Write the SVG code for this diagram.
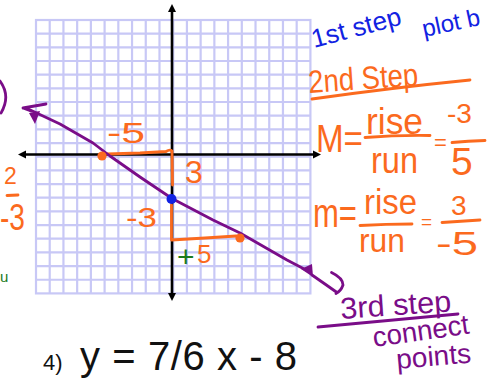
<svg xmlns="http://www.w3.org/2000/svg" width="491" height="381" viewBox="0 0 491 381">
<defs>
<style>
.grid{stroke:#c8c8f6;stroke-width:2.2;fill:none}
.axis{stroke:#000;stroke-width:2.6;fill:none}
.ah{fill:#000}
.pl{stroke:#7a0d88;stroke-width:2.8;fill:none;stroke-linecap:round;stroke-linejoin:round}
.or{stroke:#fb6a1e;stroke-width:2.8;fill:none;stroke-linecap:round;stroke-linejoin:round}
.t{font-family:"Liberation Sans","Noto Sans",Arial,sans-serif}
.to{fill:#fb6a1e}
.tb{fill:#1222e2}
.tp{fill:#7a0d88}
.tg{fill:#1c7a1c}
.tk{fill:#111}
</style>
</defs>
<rect width="491" height="381" fill="#fff"/>
<g id="grid">
<rect x="36" y="20" width="274.4" height="273.4" fill="#fff" stroke="#c8c8f6" stroke-width="2.2"/>
<path class="grid" d="M49.72,20V293.4M63.44,20V293.4M77.16,20V293.4M90.88,20V293.4M104.6,20V293.4M118.32,20V293.4M132.04,20V293.4M145.76,20V293.4M159.48,20V293.4M173.2,20V293.4M186.92,20V293.4M200.64,20V293.4M214.36,20V293.4M228.08,20V293.4M241.8,20V293.4M255.52,20V293.4M269.24,20V293.4M282.96,20V293.4M296.68,20V293.4"/>
<path class="grid" d="M36,33.67H310.4M36,47.34H310.4M36,61.01H310.4M36,74.68H310.4M36,88.35H310.4M36,102.02H310.4M36,115.69H310.4M36,129.36H310.4M36,143.03H310.4M36,156.7H310.4M36,170.37H310.4M36,184.04H310.4M36,197.71H310.4M36,211.38H310.4M36,225.05H310.4M36,238.72H310.4M36,252.39H310.4M36,266.06H310.4M36,279.73H310.4"/>
</g>
<g id="axes">
<path class="axis" d="M172,10V295"/>
<path class="axis" d="M24,154.5H315"/>
<polygon class="ah" points="172,4 168,12 176,12"/>
<polygon class="ah" points="172,301 168,293 176,293"/>
<polygon class="ah" points="18,154.5 26,150.5 26,158.5"/>
<polygon class="ah" points="321,154.5 313,150.5 313,158.5"/>
</g>
<g id="connectors">
<path class="or" d="M107,154 L140,153 L166,151.5 Q170,149 172,151 L172.5,185"/>
<path class="or" d="M171.5,205 L171.5,240 L205,238 L236,236"/>
<path class="pl" d="M26,108 L60,124 L93,143 L110,156 L140,177 L172,198.5 L213,220 L240,233 L287,260 L308,271"/>
<path class="pl" d="M23,108 L46,104 M23,108 L31,111"/>
<polygon points="29,113 40,111 35,124" fill="#7a0d88"/>
<polygon points="312,264 301,269 313,277" fill="#7a0d88"/>
<path class="pl" d="M312,275 Q325,284 337,292.5"/>
<path class="pl" d="M331.5,272.5 Q343,278 343,285 Q341,291 336,293.5"/>
<path class="pl" stroke-width="4" d="M0,81 Q11,96 1,113"/>
<path class="or" d="M365,137.5 Q397,135 430,135.5"/>
<path class="or" d="M452,142.5 Q468,141 485,140.5"/>
<path class="or" d="M360,225.5 Q386,224 412,224"/>
<path class="or" d="M442,222.5 Q461,221 480,220"/>
<path class="or" d="M312,99 Q390,88 470,80"/>
<path class="or" d="M7,195.5 L18,195"/>
<path class="pl" d="M318,327 Q390,320 458,314"/>
</g>
<g id="points">
<circle cx="102" cy="156" r="4.6" fill="#fb6a1e"/>
<circle cx="240" cy="238" r="4.6" fill="#fb6a1e"/>
<circle cx="171.5" cy="199" r="5" fill="#1222e2"/>
</g>
<g id="labels-graph" class="t">
<text class="to" x="107" y="143" font-size="30" textLength="38" lengthAdjust="spacingAndGlyphs">-5</text>
<text class="to" x="185" y="183" font-size="32">3</text>
<text class="to" x="126" y="227" font-size="28" textLength="31" lengthAdjust="spacingAndGlyphs">-3</text>
<text class="tg" x="177" y="267" font-size="30">+</text>
<text class="to" x="197" y="263" font-size="26">5</text>
<text class="to" x="4" y="184" font-size="23">2</text>
<text class="to" x="0" y="230" font-size="37" textLength="25" lengthAdjust="spacingAndGlyphs">-3</text>
<text class="tg" x="0" y="282" font-size="15">u</text>
</g>
<g id="step1" class="t">
<text class="tb" x="314" y="48" font-size="26" textLength="92" lengthAdjust="spacingAndGlyphs" transform="rotate(-15 314 48)">1st step</text>
<text class="tb" x="424" y="37" font-size="24" transform="rotate(-12 424 37)">plot b</text>
</g>
<g id="step2" class="t">
<text class="to" x="309" y="93" font-size="32" textLength="110" lengthAdjust="spacingAndGlyphs" transform="rotate(-4 309 93)">2nd Step</text>
<text class="to" x="316" y="152" font-size="38" textLength="47" lengthAdjust="spacingAndGlyphs">M=</text>
<text class="to" x="366" y="134" font-size="36" textLength="57" lengthAdjust="spacingAndGlyphs">rise</text>
<text class="to" x="371" y="173" font-size="36" textLength="47" lengthAdjust="spacingAndGlyphs">run</text>
<text class="to" x="434" y="150" font-size="22">=</text>
<text class="to" x="447" y="123" font-size="28">-3</text>
<text class="to" x="451" y="175" font-size="39">5</text>
<text class="to" x="313" y="227" font-size="40" textLength="44" lengthAdjust="spacingAndGlyphs">m=</text>
<text class="to" x="364" y="214" font-size="35" textLength="53" lengthAdjust="spacingAndGlyphs">rise</text>
<text class="to" x="359" y="252" font-size="33" textLength="46" lengthAdjust="spacingAndGlyphs">run</text>
<text class="to" x="421" y="228" font-size="19">=</text>
<text class="to" x="451" y="215" font-size="28">3</text>
<text class="to" x="436" y="255" font-size="34" textLength="42" lengthAdjust="spacingAndGlyphs">-5</text>
</g>
<g id="step3" class="t">
<text class="tp" x="341" y="319" font-size="30" textLength="111" lengthAdjust="spacingAndGlyphs" transform="rotate(-4 341 319)">3rd step</text>
<text class="tp" x="374" y="347" font-size="28" textLength="97" lengthAdjust="spacingAndGlyphs" transform="rotate(-8 374 347)">connect</text>
<text class="tp" x="397" y="369" font-size="28" textLength="75" lengthAdjust="spacingAndGlyphs" transform="rotate(-5 397 369)">points</text>
</g>
<g id="equation" class="t">
<text class="tk" x="43" y="370" font-size="22">4)</text>
<text class="tk" x="80" y="370" font-size="40" textLength="217" lengthAdjust="spacing">y = 7/6 x - 8</text>
</g>
</svg>
